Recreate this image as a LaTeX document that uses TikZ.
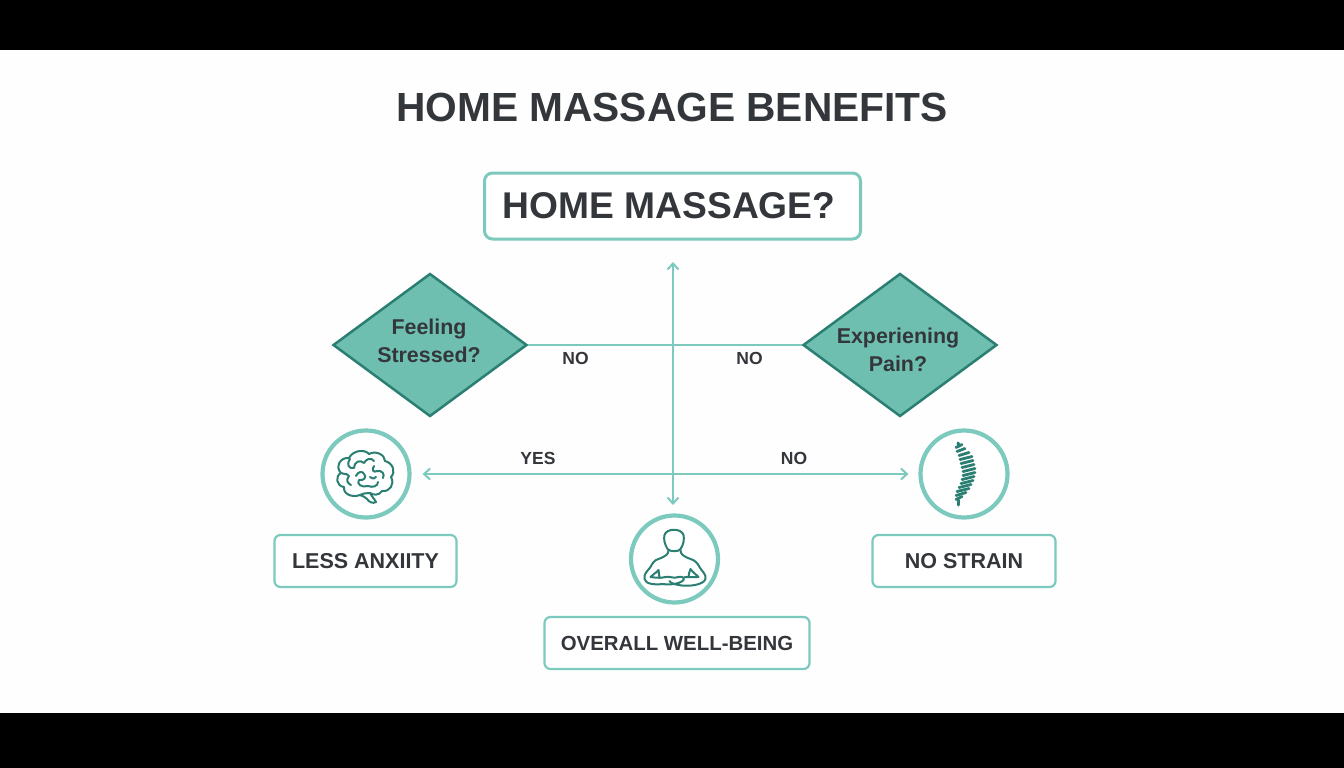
\documentclass[tikz,border=0pt]{standalone}
\usepackage{fontspec}
\setmainfont{Liberation Sans}
\usetikzlibrary{shapes.geometric,arrows.meta}
\definecolor{teal1}{HTML}{7CC9BD}
\definecolor{teal2}{HTML}{2A7F72}
\definecolor{dfill}{HTML}{6FBFB1}
\definecolor{ink}{HTML}{33363A}
\tikzset{
 x=1pt,y=-1pt,
 qbox/.style={draw=teal1,line width=3pt,rounded corners=8pt,fill=white,text=ink,font=\bfseries\fontsize{37.2}{40}\selectfont,minimum width=376pt,minimum height=66pt,inner sep=0pt},
 rbox/.style={draw=teal1,line width=2.2pt,rounded corners=6pt,fill=white,text=ink,font=\bfseries\fontsize{21.5}{24}\selectfont,minimum height=52pt,inner sep=0pt},
 dia/.style={draw=teal2,line width=2.5pt,fill=dfill,diamond,aspect=1.36,minimum width=194pt,minimum height=143pt,inner sep=0pt},
 dtext/.style={text=ink,font=\bfseries\fontsize{21.4}{28}\selectfont,align=center,inner sep=0pt},
 ring/.style={draw=teal1,line width=4.2pt,circle,fill=white,minimum size=87pt,inner sep=0pt},
 conn/.style={draw=teal1,line width=2pt},
 arr/.style={conn,{Straight Barb[length=6pt,width=11pt]}-{Straight Barb[length=6pt,width=11pt]}},
 lab/.style={text=ink,font=\bfseries\fontsize{17.5}{20}\selectfont,inner sep=0pt},
 icon/.style={draw=teal2,line width=2pt,line cap=round,line join=round,fill=none},
}
\begin{document}
\begin{tikzpicture}
\useasboundingbox (0,0) rectangle (1344,768);
\fill[white!99!teal1] (0,0) rectangle (1344,768);
\fill[black] (0,0) rectangle (1344,50.5);
\fill[black] (0,713) rectangle (1344,768);
\node[text=ink,font=\bfseries\fontsize{40.7}{44}\selectfont,inner sep=0pt] (title) at (672,107) {HOME MASSAGE BENEFITS};
\node[qbox] (ask) at (672.5,206) {\hspace*{-7pt}HOME MASSAGE?};
\node[dia] (stress) at (430,345) {};
\node[dia] (pain) at (900,345) {};
\node[dtext] (stresst) at (429,341) {Feeling\\Stressed?};
\node[dtext] (paint) at (898,350) {Experiening\\Pain?};
\node[ring] (brain) at (366,474) {};
\node[ring] (person) at (674.5,559) {};
\node[ring] (spine) at (964,474) {};
\node[rbox,minimum width=182pt] (lessbox) at (365.5,561) {LESS ANXIITY};
\node[rbox,minimum width=183pt] (strainbox) at (964,561) {NO STRAIN};
\node[rbox,minimum width=265pt,font=\bfseries\fontsize{20.4}{24}\selectfont] (wellbox) at (677,643) {OVERALL WELL-BEING};
\coordinate (vtop) at (673,262);
\coordinate (vbot) at (673,505);
\draw[conn] (stress.east) -- (pain.west);
\draw[arr] (vtop) -- (vbot);
\draw[arr,shorten <=11pt,shorten >=10pt] (brain.east) -- (spine.west);
\node[lab] (n1) at (575.5,358.5) {NO};
\node[lab] (n2) at (749.5,358.5) {NO};
\node[lab] (y1) at (538,458) {YES};
\node[lab] (n3) at (794,458) {NO};
% brain icon
\begin{scope}[shift={(366,474)}]
\draw[icon] (-6,21) .. controls (-14,24) and (-23,20) .. (-22,13) .. controls (-30,12) and (-31,2) .. (-25,-1) .. controls (-31,-7) and (-26,-17) .. (-17,-16) .. controls (-13,-24) and (-1,-25) .. (3,-20) .. controls (10,-24) and (19,-19) .. (19,-13) .. controls (27,-11) and (30,-2) .. (25,3) .. controls (29,10) and (24,18) .. (16,17) .. controls (13,22) and (7,21) .. (4,19);
\draw[icon] (-6,21) .. controls (0,18) and (2,20) .. (4,19) .. controls (5,22) and (8,24) .. (10,28) .. controls (7,30) and (3,28) .. (1,25) .. controls (-1,23) and (-3,22) .. (-6,21);
\draw[icon] (-16,-15) .. controls (-20,-9) and (-17,-5) .. (-12,-6) .. controls (-12,-12) and (-6,-15) .. (-2,-11) .. controls (0,-15) and (5,-17) .. (8,-13);
\draw[icon] (-25,-1) .. controls (-20,1) and (-18,-1) .. (-17,2) .. controls (-20,6) and (-19,9) .. (-15,11);
\draw[icon] (-10,2) .. controls (-8,-3) and (-3,-3) .. (-2,0) .. controls (1,3) and (-2,7) .. (-7,6) .. controls (-10,10) and (-4,14) .. (2,12) .. controls (7,14) and (12,12) .. (12,8);
\draw[icon] (8,-8) .. controls (5,-4) and (8,-1) .. (11,-3) .. controls (16,-4) and (19,0) .. (17,4);
\draw[icon] (4,3) .. controls (7,5) and (9,5) .. (10,3);
\end{scope}
% person icon
\begin{scope}[shift={(674.5,559)}]
\draw[icon] (-7,-10) .. controls (-10,-15) and (-11,-20) .. (-10,-24) .. controls (-8,-31) and (7,-31) .. (9,-24) .. controls (10,-20) and (9,-14) .. (6,-10) .. controls (4,-7) and (-4,-7) .. (-7,-10);
\draw[icon] (-6,-9) .. controls (-6,-5) and (-8,-3) .. (-16,0) .. controls (-20,1) and (-22,4) .. (-24,8) .. controls (-27,12) and (-31,15) .. (-30,20) .. controls (-29,25) and (-20,26) .. (-12,25) .. controls (-4,26) and (4,25) .. (8,22) .. controls (11,20) and (9,17) .. (4,18) .. controls (-1,20) and (-4,17) .. (-9,18) .. controls (-13,19) and (-17,19) .. (-24,18) .. controls (-22,15) and (-19,15) .. (-16,11);
\draw[icon] (6,-9) .. controls (6,-5) and (8,-3) .. (16,0) .. controls (20,1) and (23,4) .. (25,8) .. controls (27,12) and (32,15) .. (31,20) .. controls (29,26) and (14,28) .. (4,26) .. controls (-1,25) and (-4,24) .. (-5,22);
\draw[icon] (10,18) .. controls (14,18) and (20,18) .. (24,18) .. controls (21,15) and (19,14) .. (16,10) .. controls (15,13) and (14,15) .. (14,18);
\draw[icon] (-16,11) .. controls (-16,13) and (-15,16) .. (-15,19);
\end{scope}
% spine icon: beaded column
\begin{scope}[shift={(965,474)}]
\foreach \y/\x/\w in {-28/-6/3,-24/-4/4,-20/-1/5,-16/1/6,-12/2/6,-8/3/6,-4/4/6,0/4/6,4/3/6,8/2/6,12/0/6,16/-2/6,20/-4/5,24/-6/3}{
  \draw[draw=teal2,line width=2.8pt,line cap=round] (\x-\w,\y+1.5) -- (\x+\w,\y-1.5);
}
\draw[draw=teal2,line width=3pt,line cap=round] (-7,-31) -- (-6,-28);
\draw[draw=teal2,line width=3pt,line cap=round] (-7,26) -- (-7,31);
\end{scope}
\end{tikzpicture}
\end{document}
